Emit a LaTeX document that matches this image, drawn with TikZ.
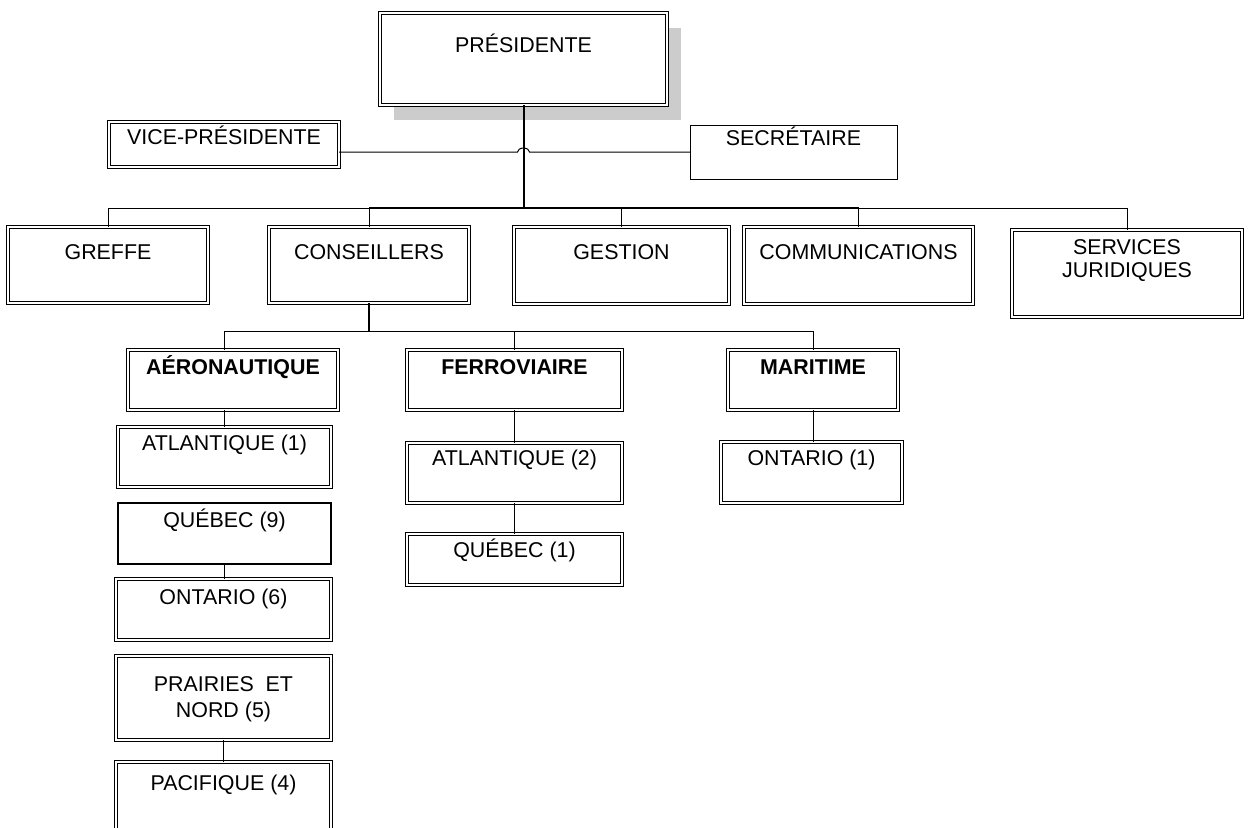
\documentclass[tikz,border=0pt]{standalone}
\usepackage{fontspec}
\setmainfont{Liberation Sans}
\usetikzlibrary{shadows}

\tikzset{
  unit/.style={draw, anchor=north west, inner sep=0pt, outer sep=0pt, align=center, fill=white, font=\fontsize{10.7}{13}\selectfont},
  dbox/.style={unit, line width=0.4pt, double, double distance=1.1pt},
  sbox/.style={unit, line width=0.5pt},
  boxdim/.style n args={3}{minimum width=#1, text height=#2, text depth=#3},
  thinline/.style={line width=0.5pt},
  thickline/.style={line width=1pt},
}

\begin{document}
\begin{tikzpicture}[x=0.5pt, y=-0.5pt]
    \useasboundingbox (0,0) rectangle (1250,827);
    \clip (0,0) rectangle (1250,827);
    \coordinate (bus) at (0,208);
    \coordinate (sub) at (0,331);

    % direction
    \node[dbox, boxdim={143.5pt}{19.75pt}{26.25pt}, drop shadow={shadow xshift=7pt, shadow yshift=-7.5pt, fill=gray!40, opacity=1}] (pres) at (380,13) {PRÉSIDENTE};
    \node[dbox, boxdim={115pt}{11.25pt}{11.25pt}] (vice) at (109,122) {VICE-PRÉSIDENTE};
    \node[sbox, boxdim={103.5pt}{10.25pt}{16.75pt}] (secr) at (690,125) {SECRÉTAIRE};

    % services
    \node[dbox, boxdim={100pt}{16.25pt}{21.75pt}] (greffe) at (8,227) {GREFFE};
    \node[dbox, boxdim={100pt}{16.25pt}{21.75pt}] (cons) at (269,227) {CONSEILLERS};
    \node[dbox, boxdim={107.5pt}{16.25pt}{22.25pt}] (gest) at (514,227) {GESTION};
    \node[dbox, boxdim={114.5pt}{16.25pt}{22.25pt}] (comm) at (744,227) {COMMUNICATIONS};
    \node[dbox, boxdim={115pt}{23.75pt}{19.75pt}] (serv) at (1012,230) {SERVICES\\[-1.5pt]JURIDIQUES};

    % modes
    \node[dbox, boxdim={105pt}{12.25pt}{17.75pt}] (aero) at (128,350) {\textbf{AÉRONAUTIQUE}};
    \node[dbox, boxdim={107.5pt}{12.25pt}{17.75pt}] (ferro) at (407,350) {\textbf{FERROVIAIRE}};
    \node[dbox, boxdim={85pt}{12.25pt}{17.75pt}] (marit) at (728,350) {\textbf{MARITIME}};

    % regions
    \node[dbox, boxdim={106.5pt}{11.75pt}{18.25pt}] (atla) at (118,427) {ATLANTIQUE (1)};
    \node[sbox, line width=1pt, boxdim={106.5pt}{12.25pt}{18.25pt}] (queba) at (118,503) {QUÉBEC (9)};
    \node[dbox, boxdim={107.5pt}{12.75pt}{17.75pt}] (onta) at (116,579) {ONTARIO (6)};
    \node[dbox, boxdim={107.5pt}{30.75pt}{11.25pt}] (prair) at (116,656) {PRAIRIES~~ET\\NORD (5)};
    \node[dbox, boxdim={107.5pt}{14.25pt}{35.75pt}] (pacif) at (116,762) {PACIFIQUE (4)};
    \node[dbox, boxdim={107.5pt}{11.25pt}{18.75pt}] (atlb) at (407,443) {ATLANTIQUE (2)};
    \node[dbox, boxdim={107.5pt}{11.75pt}{13.75pt}] (quebb) at (407,534) {QUÉBEC (1)};
    \node[dbox, boxdim={90.5pt}{11.75pt}{18.75pt}] (ontb) at (721,442) {ONTARIO (1)};

    % links
    \draw[thickline] (pres.south) -- (pres.south |- bus);
    \draw[thinline] (vice.east |- secr.west) -- ([xshift=-3pt]pres.south |- secr.west)
        arc[start angle=180, end angle=0, x radius=3pt, y radius=2pt] -- (secr.west);
    \draw[thinline] (greffe.north |- bus) -- (serv.north |- bus);
    \draw[thickline] (cons.north |- bus) -- (comm.north |- bus);
    \foreach \n in {greffe, cons, gest, comm, serv}
        \draw[thinline] (\n.north |- bus) -- (\n.north);

    \draw[thickline] (cons.south) -- (cons.south |- sub);
    \draw[thinline] (atla.north |- sub) -- (marit.north |- sub);
    \draw[thinline] (atla.north |- sub) -- (atla.north |- aero.north);
    \foreach \n in {ferro, marit}
        \draw[thinline] (\n.north |- sub) -- (\n.north);
    \draw[thinline] (atla.north |- aero.south) -- (atla.north);
    \draw[thinline] (queba.south) -- (queba.south |- onta.north);
    \draw[thinline] (prair.south) -- (prair.south |- pacif.north);
    \draw[thinline] (ferro.south) -- (atlb.north);
    \draw[thinline] (atlb.south) -- (quebb.north);
    \draw[thinline] (marit.south) -- (marit.south |- ontb.north);
\end{tikzpicture}
\end{document}
